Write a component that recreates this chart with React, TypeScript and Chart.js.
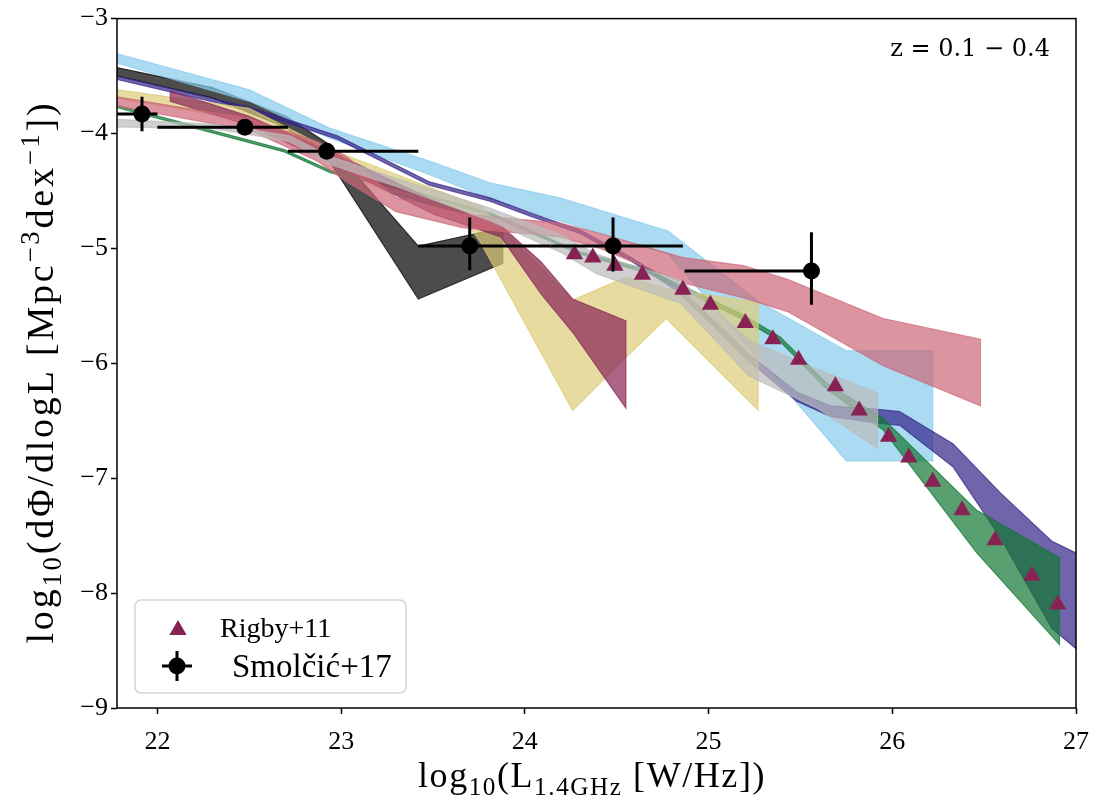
import React, { useEffect, useRef } from "react";
import { Chart, registerables } from "chart.js";

Chart.register(...registerables);

// ---- axes ----
const X_MIN = 21.78;
const X_MAX = 27;
const Y_MIN = -9;
const Y_MAX = -3;
const xTicks = [22, 23, 24, 25, 26, 27];
const yTicks = [-9, -8, -7, -6, -5, -4, -3];

// ---- model bands (x, upper, lower) ----
const cyanX = [21.7, 22.5, 22.94, 23.5, 23.81, 24.19, 24.78, 25.27, 25.75, 26.22];
const cyanHi = [-3.27, -3.62, -3.955, -4.25, -4.43, -4.56, -4.85, -5.46, -5.89, -5.89];
const cyanLo = [-3.35, -3.72, -4.04, -4.37, -4.57, -4.76, -5.05, -5.95, -6.85, -6.85];

const blackX = [21.7, 22.3, 22.7, 22.94, 23.42, 23.88];
const blackHi = [-3.4, -3.6, -3.85, -4.1, -4.98, -4.82];
const blackLo = [-3.47, -3.69, -3.95, -4.25, -5.44, -5.13];

const indigoX = [21.7, 22.5, 22.98, 23.48, 23.81, 24.03, 24.3, 24.57, 24.83, 25.22, 25.48, 25.66, 25.92, 26.04, 26.33, 26.59, 26.87, 27.05];
const indigoHi = [-3.47, -3.77, -4.02, -4.42, -4.56, -4.69, -4.84, -5.07, -5.33, -5.92, -6.25, -6.37, -6.4, -6.42, -6.7, -7.13, -7.55, -7.69];
const indigoLo = [-3.5, -3.8, -4.05, -4.45, -4.59, -4.72, -4.87, -5.1, -5.37, -5.98, -6.33, -6.46, -6.52, -6.54, -6.9, -7.52, -8.31, -8.55];

const greenX = [21.7, 22.69, 22.94, 23.37, 23.81, 24.3, 24.68, 25.19, 25.39, 25.64, 25.95, 26.46, 26.91];
const greenHi = [-3.72, -4.14, -4.32, -4.49, -4.69, -5.03, -5.19, -5.58, -5.77, -6.17, -6.48, -7.28, -7.69];
const greenLo = [-3.74, -4.16, -4.34, -4.51, -4.71, -5.05, -5.22, -5.62, -5.81, -6.22, -6.58, -7.65, -8.45];

const roseX = [21.7, 22.5, 22.87, 23.03, 23.3, 23.66, 24.19, 24.41, 24.86, 25.19, 25.43, 25.95, 26.48];
const roseHi = [-3.66, -3.87, -4.07, -4.2, -4.56, -4.7, -4.78, -4.87, -5.08, -5.15, -5.27, -5.61, -5.79];
const roseLo = [-3.74, -3.97, -4.24, -4.42, -4.68, -4.82, -4.9, -5.0, -5.3, -5.43, -5.55, -6.02, -6.37];

const sandX = [21.7, 22.5, 22.94, 23.21, 23.65, 23.76, 24.26, 24.55, 24.77, 25.27];
const sandHi = [-3.6, -3.78, -4.14, -4.3, -4.57, -4.63, -5.45, -5.25, -5.35, -5.47];
const sandLo = [-3.67, -3.89, -4.24, -4.48, -4.7, -4.95, -6.41, -5.95, -5.61, -6.41];

const wineX = [22.07, 22.5, 23.0, 23.5, 23.87, 24.09, 24.26, 24.55];
const wineHi = [-3.63, -3.85, -4.2, -4.58, -4.8, -5.12, -5.44, -5.63];
const wineLo = [-3.72, -3.93, -4.3, -4.7, -4.9, -5.4, -5.73, -6.39];

const greyX = [21.7, 22.32, 22.72, 22.94, 23.3, 23.81, 24.19, 24.39, 24.85, 25.22, 25.59, 25.92];
const greyHi = [-3.87, -3.92, -4.02, -4.2, -4.39, -4.65, -4.88, -5.05, -5.28, -5.8, -6.05, -6.26];
const greyLo = [-3.94, -3.96, -4.07, -4.27, -4.46, -4.76, -5.03, -5.22, -5.48, -6.11, -6.39, -6.74];

// ---- Rigby+11 ----
const rigbyX = [24.27, 24.37, 24.49, 24.64, 24.86, 25.01, 25.2, 25.35, 25.49, 25.69, 25.82, 25.98, 26.09, 26.22, 26.38, 26.56, 26.76, 26.9];
const rigbyY = [-5.05, -5.08, -5.15, -5.23, -5.36, -5.49, -5.65, -5.79, -5.97, -6.2, -6.41, -6.64, -6.82, -7.03, -7.28, -7.54, -7.85, -8.1];

// ---- Smolcic+17 ----
const smolX = [21.916, 22.476, 22.922, 23.7, 24.48, 25.56];
const smolY = [-3.83, -3.945, -4.155, -4.98, -4.98, -5.197];
const smolXLo = [21.76, 22.0, 22.71, 23.42, 24.14, 24.87];
const smolXHi = [22.0, 22.71, 23.42, 24.14, 24.86, 25.56];
const smolYLo = [-3.98, -3.99, -4.2, -5.19, -5.2, -5.49];
const smolYHi = [-3.68, -3.9, -4.11, -4.73, -4.73, -4.86];

const rgba = (hex: string, a: number) => {
  const n = parseInt(hex.slice(1), 16);
  return `rgba(${(n >> 16) & 255},${(n >> 8) & 255},${n & 255},${a})`;
};

const polygon = (xs: number[], hi: number[], lo: number[]) => {
  const pts = xs.map((x, i) => ({ x, y: hi[i] }));
  for (let i = xs.length - 1; i >= 0; i--) pts.push({ x: xs[i], y: lo[i] });
  pts.push({ x: xs[0], y: hi[0] });
  return pts;
};

// bottom to top drawing order
const bands = [
  { name: "black", color: "#000000", x: blackX, hi: blackHi, lo: blackLo },
  { name: "cyan", color: "#88CCEE", x: cyanX, hi: cyanHi, lo: cyanLo },
  { name: "indigo", color: "#332288", x: indigoX, hi: indigoHi, lo: indigoLo },
  { name: "green", color: "#117733", x: greenX, hi: greenHi, lo: greenLo },
  { name: "sand", color: "#DDCC77", x: sandX, hi: sandHi, lo: sandLo },
  { name: "wine", color: "#882255", x: wineX, hi: wineHi, lo: wineLo },
  { name: "rose", color: "#CC6677", x: roseX, hi: roseHi, lo: roseLo },
  { name: "grey", color: "#BBBBBB", x: greyX, hi: greyHi, lo: greyLo },
];

const SERIF = '"Liberation Serif", "Times New Roman", serif';

type Part = { t: string; s: number; dy: number };

const setSpacing = (ctx: any, px: number) => {
  if ("letterSpacing" in ctx) ctx.letterSpacing = `${px}px`;
};

const richWidth = (ctx: CanvasRenderingContext2D, parts: Part[], f: number) => {
  let w = 0;
  for (const p of parts) {
    ctx.font = `${f * p.s}px ${SERIF}`;
    w += ctx.measureText(p.t).width;
  }
  return w;
};

const drawRich = (ctx: CanvasRenderingContext2D, parts: Part[], f: number, x0: number, y0: number) => {
  let x = x0;
  for (const p of parts) {
    ctx.font = `${f * p.s}px ${SERIF}`;
    ctx.fillText(p.t, x, y0 + p.dy * f);
    x += ctx.measureText(p.t).width;
  }
};

// draws rich text with letter spacing chosen so the text spans `target` px, centred on (cx, y)
const drawFitted = (ctx: CanvasRenderingContext2D, parts: Part[], f: number, target: number, cx: number, y: number) => {
  setSpacing(ctx, 0);
  const w0 = richWidth(ctx, parts, f);
  const n = parts.reduce((a, p) => a + [...p.t].length, 0);
  const sp = Math.max(0, (target - w0) / n);
  setSpacing(ctx, sp);
  const w = richWidth(ctx, parts, f);
  drawRich(ctx, parts, f, cx - w / 2, y);
  setSpacing(ctx, 0);
};

const xTitle: Part[] = [
  { t: "log", s: 1, dy: 0 },
  { t: "10", s: 0.7, dy: 0.22 },
  { t: "(L", s: 1, dy: 0 },
  { t: "1.4GHz", s: 0.7, dy: 0.22 },
  { t: " [W/Hz])", s: 1, dy: 0 },
];

const yTitle: Part[] = [
  { t: "log", s: 1, dy: 0 },
  { t: "10", s: 0.7, dy: 0.22 },
  { t: "(dΦ/dlogL [Mpc", s: 1, dy: 0 },
  { t: "\u22123", s: 0.7, dy: -0.38 },
  { t: "dex", s: 1, dy: 0 },
  { t: "\u22121", s: 0.7, dy: -0.38 },
  { t: "])", s: 1, dy: 0 },
];

export default function App() {
  const ref = useRef<HTMLCanvasElement>(null);

  useEffect(() => {
    const canvas = ref.current;
    if (!canvas) return;

    const datasets: any[] = [];
    datasets.push({
      label: "Smolčić+17",
      data: smolX.map((x, i) => ({ x, y: smolY[i] })),
      pointStyle: "circle",
      pointRadius: 8.5,
      backgroundColor: "#000",
      borderColor: "#000",
      borderWidth: 0,
      showLine: false,
      clip: false,
    });
    datasets.push({
      label: "Rigby+11",
      data: rigbyX.map((x, i) => ({ x, y: rigbyY[i] })),
      pointStyle: "triangle",
      pointRadius: 10,
      backgroundColor: "#882255",
      borderColor: "#882255",
      borderWidth: 0,
      showLine: false,
    });
    for (let i = bands.length - 1; i >= 0; i--) {
      const b = bands[i];
      datasets.push({
        label: b.name,
        data: polygon(b.x, b.hi, b.lo),
        showLine: true,
        fill: "shape",
        tension: 0,
        pointRadius: 0,
        borderWidth: 1.2,
        borderColor: rgba(b.color, 0.7),
        backgroundColor: rgba(b.color, 0.7),
        clip: 0,
      });
    }

    const errPlugin = {
      id: "errbars",
      beforeDatasetDraw(chart: any, args: any) {
        if (args.index !== 0) return;
        const { ctx, chartArea, scales } = chart;
        const sx = scales.x, sy = scales.y;
        ctx.save();
        ctx.beginPath();
        ctx.rect(chartArea.left, chartArea.top, chartArea.right - chartArea.left, chartArea.bottom - chartArea.top);
        ctx.clip();
        ctx.strokeStyle = "#000";
        ctx.lineWidth = 3;
        for (let i = 0; i < smolX.length; i++) {
          const py = sy.getPixelForValue(smolY[i]);
          const px = sx.getPixelForValue(smolX[i]);
          ctx.beginPath();
          ctx.moveTo(sx.getPixelForValue(smolXLo[i]), py);
          ctx.lineTo(sx.getPixelForValue(smolXHi[i]), py);
          ctx.moveTo(px, sy.getPixelForValue(smolYLo[i]));
          ctx.lineTo(px, sy.getPixelForValue(smolYHi[i]));
          ctx.stroke();
        }
        ctx.restore();
      },
    };

    const decoPlugin = {
      id: "deco",
      afterDraw(chart: any) {
        const { ctx, chartArea } = chart;
        const { left, right, top, bottom } = chartArea;
        ctx.save();
        // frame
        ctx.strokeStyle = "#000";
        ctx.lineWidth = 1.5;
        ctx.strokeRect(left, top, right - left, bottom - top);

        // annotation
        ctx.fillStyle = "#000";
        ctx.font = `24px "DejaVu Serif", serif`;
        ctx.textAlign = "right";
        ctx.textBaseline = "alphabetic";
        ctx.fillText("z = 0.1 \u2212 0.4", right - 26, top + 37);

        // axis titles
        ctx.textAlign = "left";
        drawFitted(ctx, xTitle, 36, 348, 592, 787);
        ctx.save();
        ctx.translate(53, 372);
        ctx.rotate(-Math.PI / 2);
        drawFitted(ctx, yTitle, 38, 543, 0, 0);
        ctx.restore();

        // legend
        const lx = left + 18, ly = bottom - 108, lw = 271, lh = 93;
        ctx.beginPath();
        ctx.roundRect(lx, ly, lw, lh, 6);
        ctx.fillStyle = "rgba(255,255,255,0.8)";
        ctx.fill();
        ctx.strokeStyle = "#d3d3d3";
        ctx.lineWidth = 1.5;
        ctx.stroke();

        // Rigby entry
        const tx = lx + 43, ty = ly + 28;
        const r = 10;
        ctx.fillStyle = "#882255";
        ctx.beginPath();
        ctx.moveTo(tx, ty - r + 2);
        ctx.lineTo(tx + r * 0.866, ty + r * 0.5 + 2);
        ctx.lineTo(tx - r * 0.866, ty + r * 0.5 + 2);
        ctx.closePath();
        ctx.fill();
        ctx.fillStyle = "#000";
        ctx.textBaseline = "alphabetic";
        ctx.font = `28px ${SERIF}`;
        ctx.fillText("Rigby+11", lx + 85, ly + 37);

        // Smolcic entry
        const cx = lx + 42, cy = ly + 66;
        ctx.strokeStyle = "#000";
        ctx.lineWidth = 3;
        ctx.beginPath();
        ctx.moveTo(cx - 15, cy);
        ctx.lineTo(cx + 15, cy);
        ctx.moveTo(cx, cy - 15);
        ctx.lineTo(cx, cy + 15);
        ctx.stroke();
        ctx.beginPath();
        ctx.arc(cx, cy, 8.5, 0, Math.PI * 2);
        ctx.fill();
        ctx.font = `33px ${SERIF}`;
        ctx.fillText("Smolčić+17", lx + 97, ly + 77);
        ctx.restore();
      },
    };

    const chart = new Chart(canvas, {
      type: "scatter",
      data: { datasets },
      options: {
        animation: false,
        responsive: false,
        devicePixelRatio: 1,
        layout: { padding: { left: 0, top: 17, right: 27, bottom: 0 } },
        plugins: {
          legend: { display: false },
          tooltip: { enabled: false },
          filler: { propagate: false },
        },
        scales: {
          x: {
            type: "linear",
            min: X_MIN,
            max: X_MAX,
            afterBuildTicks: (s: any) => {
              s.ticks = xTicks.map((v) => ({ value: v }));
            },
            afterFit: (s: any) => {
              s.height = 99;
            },
            grid: {
              drawOnChartArea: false,
              drawTicks: true,
              tickLength: 6,
              tickWidth: 1.5,
              tickColor: "#000",
            },
            border: { display: false },
            ticks: {
              color: "#000",
              font: { family: SERIF, size: 26 },
              padding: 13,
              maxRotation: 0,
              autoSkip: false,
              callback: (v: any) => String(v),
            },
          },
          y: {
            type: "linear",
            min: Y_MIN,
            max: Y_MAX,
            afterBuildTicks: (s: any) => {
              s.ticks = yTicks.map((v) => ({ value: v }));
            },
            afterFit: (s: any) => {
              s.width = 117;
            },
            grid: {
              drawOnChartArea: false,
              drawTicks: true,
              tickLength: 6,
              tickWidth: 1.5,
              tickColor: "#000",
            },
            border: { display: false },
            ticks: {
              color: "#000",
              font: { family: SERIF, size: 26 },
              padding: 3,
              autoSkip: false,
              callback: (v: any) => (Number(v) < 0 ? "\u2212" + Math.abs(Number(v)) : String(v)),
            },
          },
        },
      } as any,
      plugins: [errPlugin, decoPlugin],
    });

    return () => chart.destroy();
  }, []);

  return (
    <div style={{ position: "fixed", left: 0, top: 0, width: 1103, height: 807, background: "#fff" }}>
      <canvas ref={ref} width={1103} height={807} style={{ width: 1103, height: 807, display: "block" }} />
    </div>
  );
}
